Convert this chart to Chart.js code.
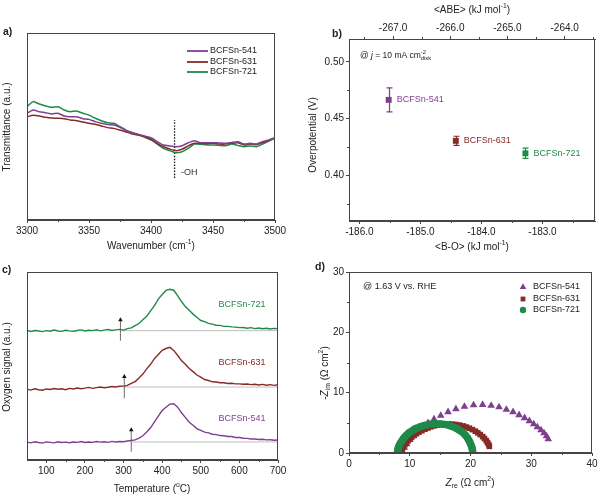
<!DOCTYPE html>
<html>
<head>
<meta charset="utf-8">
<script src="https://cdn.jsdelivr.net/npm/chart.js@4.4.1/dist/chart.umd.min.js"></script>
<style>
html, body { margin: 0; padding: 0; background: #fff; }
#wrap { position: relative; width: 600px; height: 498px; }
#wrap canvas { position: absolute; left: 0; top: 0; }
</style>
</head>
<body>
<div id="wrap">
  <canvas id="pa" width="600" height="498"></canvas>
  <canvas id="pb" width="600" height="498"></canvas>
  <canvas id="pc" width="600" height="498"></canvas>
  <canvas id="pd" width="600" height="498"></canvas>
</div>
<script>
// Four-panel figure: FTIR (a), overpotential vs <B-O> (b), O2-TPD (c), Nyquist (d).

const SAMPLES = ['BCFSn-541', 'BCFSn-631', 'BCFSn-721'];

// (a) FTIR, arbitrary transmittance units
const WAVENUMBER = [3300, 3305, 3310, 3315, 3320, 3325, 3330, 3335, 3340, 3345, 3350, 3355, 3360, 3365, 3370,
  3375, 3380, 3385, 3390, 3395, 3400, 3405, 3410, 3415, 3420, 3425, 3430, 3435, 3440, 3445, 3450, 3455, 3460,
  3465, 3470, 3475, 3480, 3485, 3490, 3495, 3500];
const FTIR_541 = [57.1, 58.8, 57.9, 57.4, 56.7, 57.1, 55.6, 55.2, 55.2, 54.2, 53.8, 52.6, 51.7, 51.0, 50.8,
  49.6, 47.8, 46.7, 45.8, 44.9, 44.0, 41.9, 40.1, 39.6, 39.2, 39.7, 41.3, 42.4, 41.3, 41.3, 41.3, 41.2, 41.0,
  41.5, 41.9, 40.6, 41.0, 40.6, 41.9, 42.8, 44.0];
const FTIR_631 = [55.2, 56.0, 55.6, 54.9, 54.5, 54.4, 54.2, 53.5, 53.1, 52.4, 51.7, 51.2, 50.3, 49.4, 49.0,
  48.1, 47.1, 46.0, 45.3, 44.5, 43.2, 41.0, 39.2, 38.0, 37.1, 37.8, 39.6, 41.0, 41.0, 40.8, 41.0, 40.6, 40.6,
  41.0, 41.3, 40.1, 40.6, 40.3, 41.3, 42.6, 43.9];
const FTIR_721 = [60.6, 63.3, 62.0, 61.0, 60.3, 60.6, 58.8, 57.9, 58.3, 57.1, 56.1, 54.4, 53.1, 52.0, 51.7,
  49.9, 48.1, 46.7, 45.5, 44.2, 42.8, 40.6, 38.3, 37.1, 36.0, 36.5, 38.3, 40.6, 40.5, 40.1, 40.1, 39.9, 39.7,
  40.6, 39.9, 39.2, 39.6, 39.2, 40.6, 42.2, 43.7];
const OH_MARK = 3419;
const OH_SPAN = [22.5, 53.5];
const A_XTICKS = [3300, 3350, 3400, 3450, 3500];
const A_XMINOR = [3325, 3375, 3425, 3475];

// (b) overpotential at 10 mA cm-2 vs <B-O>
const B_O = [-185.52, -184.42, -183.28];
const ETA = [0.4665, 0.4305, 0.4195];
const ETA_ERR = [0.0105, 0.004, 0.0045];
const B_XTICKS = [-186, -185, -184, -183];
const B_XMINOR = [-185.5, -184.5, -183.5, -182.5];
const ABE_TICKS = [-267, -266, -265, -264];
const ABE_MINOR = [-267.5, -266.5, -265.5, -264.5, -263.5];
const B_YTICKS = [0.40, 0.45, 0.50];
const B_YMINOR = [0.375, 0.425, 0.475];

// (c) O2-TPD, stacked signals
const TEMP = [50, 60, 70, 80, 90, 100, 110, 120, 130, 140, 150, 160, 170, 180, 190, 200, 210, 220, 230, 240,
  250, 260, 270, 280, 290, 300, 310, 320, 330, 340, 350, 360, 370, 380, 390, 400, 410, 420, 430, 440, 450,
  460, 470, 480, 490, 500, 510, 520, 530, 540, 550, 560, 570, 580, 590, 600, 610, 620, 630, 640, 650, 660,
  670, 680, 690, 700];
const TPD_541 = [0.95, 0.91, 0.97, 0.93, 0.90, 0.96, 0.94, 0.91, 0.97, 0.93, 0.95, 0.92, 0.96, 0.94, 0.98,
  0.93, 0.96, 0.94, 0.98, 0.95, 0.97, 0.94, 0.99, 0.96, 0.98, 0.97, 1.01, 1.04, 1.07, 1.16, 1.29, 1.49, 1.71,
  2.03, 2.33, 2.63, 2.81, 2.97, 2.99, 2.81, 2.51, 2.27, 2.01, 1.85, 1.67, 1.58, 1.48, 1.44, 1.37, 1.35, 1.30,
  1.29, 1.25, 1.25, 1.20, 1.20, 1.16, 1.15, 1.12, 1.12, 1.09, 1.10, 1.07, 1.08, 1.05, 1.06];
const TPD_631 = [3.77, 3.72, 3.79, 3.74, 3.71, 3.78, 3.75, 3.80, 3.76, 3.79, 3.74, 3.81, 3.78, 3.83, 3.79,
  3.82, 3.86, 3.81, 3.85, 3.88, 3.84, 3.87, 3.91, 3.88, 3.92, 3.93, 3.97, 4.07, 4.17, 4.36, 4.57, 4.85, 5.09,
  5.39, 5.61, 5.83, 5.93, 5.99, 5.83, 5.57, 5.29, 5.09, 4.87, 4.70, 4.52, 4.41, 4.28, 4.23, 4.16, 4.15, 4.11,
  4.11, 4.07, 4.08, 4.05, 4.05, 4.03, 4.04, 4.01, 4.03, 3.99, 4.02, 3.98, 4.01, 3.97, 4.00];
const TPD_721 = [6.90, 6.84, 6.89, 6.86, 6.83, 6.88, 6.85, 6.91, 6.86, 6.84, 6.90, 6.87, 6.85, 6.89, 6.92,
  6.86, 6.90, 6.88, 6.93, 6.87, 6.91, 6.94, 6.89, 6.92, 6.95, 6.91, 6.99, 7.03, 7.15, 7.26, 7.46, 7.64, 7.93,
  8.21, 8.56, 8.80, 9.02, 9.08, 9.03, 8.74, 8.43, 8.16, 7.96, 7.76, 7.59, 7.42, 7.36, 7.27, 7.23, 7.17, 7.16,
  7.11, 7.11, 7.08, 7.07, 7.04, 7.05, 7.01, 7.04, 6.99, 7.02, 6.98, 7.01, 6.97, 7.00, 6.99];
const ONSET_T = [320, 302, 292];          // arrows, per sample
const ARROW_LOW = [0.44, 3.28, 6.35];
const ARROW_HIGH = [1.60, 4.43, 7.45];
const GUIDE_START = [323, 300, 292];      // grey baselines
const GUIDE_LEVEL = [0.96, 3.88, 6.88];
const C_XTICKS = [100, 200, 300, 400, 500, 600, 700];
const C_XMINOR = [150, 250, 350, 450, 550, 650];

// (d) Nyquist at 1.63 V vs. RHE
const ZRE_541 = [8.8, 9.1, 9.5, 10.0, 10.6, 11.3, 12.1, 13.0, 14.0, 15.1, 16.3, 17.6, 19.0, 20.5, 22.0, 23.4,
  24.7, 25.9, 27.0, 28.0, 28.9, 29.7, 30.4, 31.0, 31.6, 32.1, 32.5, 32.8];
const ZIM_541 = [0.3, 0.9, 1.5, 2.2, 2.9, 3.6, 4.3, 5.0, 5.6, 6.2, 6.8, 7.3, 7.7, 7.95, 8.0, 7.85,
  7.6, 7.2, 6.8, 6.3, 5.8, 5.3, 4.8, 4.3, 3.8, 3.3, 2.8, 2.3];
const ZRE_631 = [8.6, 8.7, 8.8, 9.0, 9.2, 9.4, 9.7, 10.0, 10.3, 10.7, 11.1, 11.5, 12.0, 12.5, 13.0, 13.5, 14.0,
  14.6, 15.2, 15.8, 16.4, 17.0, 17.6, 18.2, 18.8, 19.3, 19.8, 20.3, 20.8, 21.2, 21.6, 22.0, 22.3, 22.6, 22.8,
  23.0, 23.1];
const ZIM_631 = [0.2, 0.5, 0.8, 1.1, 1.4, 1.7, 2.0, 2.3, 2.6, 2.9, 3.2, 3.45, 3.7, 3.95, 4.15, 4.35, 4.5,
  4.62, 4.72, 4.78, 4.8, 4.78, 4.72, 4.62, 4.48, 4.3, 4.1, 3.88, 3.62, 3.35, 3.05, 2.72, 2.4, 2.05, 1.7,
  1.4, 1.1];
const ZRE_721 = [8.0, 8.05, 8.1, 8.2, 8.35, 8.5, 8.7, 8.9, 9.15, 9.4, 9.7, 10.0, 10.4, 10.8, 11.2, 11.7, 12.2,
  12.7, 13.2, 13.8, 14.4, 15.0, 15.6, 16.2, 16.7, 17.2, 17.7, 18.1, 18.5, 18.9, 19.2, 19.5, 19.7, 19.9, 20.05,
  20.2, 20.3, 20.35];
const ZIM_721 = [0.2, 0.5, 0.8, 1.1, 1.4, 1.7, 2.0, 2.3, 2.6, 2.9, 3.2, 3.45, 3.7, 3.95, 4.15, 4.35, 4.52,
  4.65, 4.75, 4.82, 4.85, 4.82, 4.75, 4.63, 4.48, 4.3, 4.08, 3.83, 3.55, 3.22, 2.88, 2.52, 2.15, 1.78, 1.4,
  1.02, 0.65, 0.3];
const D_XTICKS = [0, 10, 20, 30, 40];
const D_XMINOR = [5, 15, 25, 35];
const D_YTICKS = [0, 10, 20, 30];
const D_YMINOR = [5, 15, 25];

const PURPLE = '#7E3F8F';
const RED = '#862A26';
const GREEN = '#1E8A4A';
const COLORS = [PURPLE, RED, GREEN];
const AXIS = '#444';
const INK = '#222';
const FAMILY = '"Liberation Sans", Arial, sans-serif';

Chart.defaults.font.family = FAMILY;
Chart.defaults.font.size = 10;
Chart.defaults.color = INK;

// text with italic / sub / sup pieces; {o:1} stacks a piece on the previous one
function richText(ctx, segs, x, y, opt) {
  const size = opt.size || 10;
  ctx.save();
  ctx.translate(x, y);
  if (opt.rot) ctx.rotate(opt.rot);
  ctx.fillStyle = opt.color || INK;
  ctx.textBaseline = 'middle';
  let cx = 0, start = 0;
  const laid = [];
  segs.forEach((s) => {
    const fs = (s.sub || s.sup) ? size * 0.68 : size;
    const font = (s.i ? 'italic ' : '') + (s.b ? 'bold ' : '') + fs + 'px ' + FAMILY;
    ctx.font = font;
    const w = ctx.measureText(s.t).width;
    const x0 = s.o ? start : cx;
    if (!s.o) start = cx;
    laid.push({ t: s.t, font, x0, dy: s.sub ? size * 0.32 : s.sup ? -size * 0.38 : 0 });
    cx = Math.max(cx, x0 + w);
  });
  const off = opt.align === 'left' ? 0 : opt.align === 'right' ? -cx : -cx / 2;
  laid.forEach((p) => { ctx.font = p.font; ctx.fillText(p.t, off + p.x0, p.dy); });
  ctx.restore();
}

function frameAndMinor(chart, minors) {
  const { ctx, chartArea: a } = chart;
  ctx.save();
  ctx.strokeStyle = AXIS;
  ctx.lineWidth = 1;
  ctx.strokeRect(Math.round(a.left) + 0.5, Math.round(a.top) + 0.5,
    Math.round(a.right - a.left) - 1, Math.round(a.bottom - a.top) - 1);
  ctx.beginPath();
  Object.keys(minors).forEach((id) => {
    const s = chart.scales[id];
    minors[id].forEach((v) => {
      const p = Math.round(s.getPixelForValue(v)) + 0.5;
      if (s.isHorizontal()) {
        const y0 = s.position === 'top' ? a.top : a.bottom;
        ctx.moveTo(p, y0);
        ctx.lineTo(p, y0 + (s.position === 'top' ? -2 : 2));
      } else {
        ctx.moveTo(a.left, p);
        ctx.lineTo(a.left - 2, p);
      }
    });
  });
  ctx.stroke();
  ctx.restore();
}

function axis(min, max, ticks, size, fmt, extra) {
  return Object.assign({
    type: 'linear',
    min, max,
    afterBuildTicks: (s) => { s.ticks = ticks.map((v) => ({ value: v })); },
    afterFit: (s) => { if (s.isHorizontal()) s.height = size; else s.width = size; },
    grid: { drawOnChartArea: false, drawTicks: ticks.length > 0, tickLength: 3, color: AXIS },
    border: { color: AXIS, width: 1 },
    ticks: { display: ticks.length > 0, padding: 2, color: INK, font: { size: 10 }, callback: fmt },
  }, extra || {});
}

const base = (padding) => ({
  responsive: false,
  animation: false,
  layout: { padding },
  plugins: { legend: { display: false }, tooltip: { enabled: false } },
});

const line = (xs, ys, color, width) => ({
  data: xs.map((x, i) => ({ x, y: ys[i] })),
  borderColor: color,
  borderWidth: width,
  pointRadius: 0,
  tension: 0.2,
  fill: false,
});

// ---------- (a) ----------
new Chart(document.getElementById('pa'), {
  type: 'line',
  data: {
    datasets: [
      line(WAVENUMBER, FTIR_541, PURPLE, 1.5),
      line(WAVENUMBER, FTIR_631, RED, 1.5),
      line(WAVENUMBER, FTIR_721, GREEN, 1.5),
      Object.assign(line([OH_MARK, OH_MARK], OH_SPAN, '#111', 1.3), { borderDash: [1.5, 1.5] }),
    ],
  },
  options: Object.assign(base({ left: 0, right: 325, top: 33, bottom: 253 }), {
    scales: {
      x: axis(3300, 3500, A_XTICKS, 25, (v) => v),
      y: axis(0, 100, [], 27),
    },
  }),
  plugins: [{
    id: 'decorA',
    afterDraw(chart) {
      const ctx = chart.ctx;
      frameAndMinor(chart, { x: A_XMINOR });
      richText(ctx, [{ t: 'a)', b: 1 }], 3, 32, { size: 10.5, align: 'left' });
      richText(ctx, [{ t: 'Transmittance (a.u.)' }], 7, 127, { rot: -Math.PI / 2 });
      richText(ctx, [{ t: 'Wavenumber (cm' }, { t: '-1', sup: 1 }, { t: ')' }], 151, 246, {});
      richText(ctx, [{ t: '-OH' }], 181, 173, { size: 9, align: 'left', color: '#333' });
      [51, 62, 72].forEach((y, i) => {
        ctx.save();
        ctx.strokeStyle = COLORS[i];
        ctx.lineWidth = 1.8;
        ctx.beginPath();
        ctx.moveTo(187, y);
        ctx.lineTo(208, y);
        ctx.stroke();
        ctx.restore();
        richText(ctx, [{ t: SAMPLES[i] }], 210, y, { size: 9, align: 'left' });
      });
    },
  }],
});

// ---------- (b) ----------
new Chart(document.getElementById('pb'), {
  type: 'scatter',
  data: {
    datasets: [{
      data: B_O.map((x, i) => ({ x, y: ETA[i] })),
      pointStyle: 'rect',
      pointRadius: 4.2,
      pointBackgroundColor: COLORS,
      pointBorderColor: COLORS,
      pointBorderWidth: 0,
      xAxisID: 'x',
      yAxisID: 'y',
    }],
  },
  options: Object.assign(base({ left: 300, right: 5, top: 0, bottom: 252 }), {
    scales: {
      x: axis(-186.17, -182.14, B_XTICKS, 25, (v) => v.toFixed(1), { position: 'bottom' }),
      x2: axis(-267.77, -263.47, ABE_TICKS, 39, (v) => v.toFixed(1), { position: 'top' }),
      y: axis(0.36, 0.52, B_YTICKS, 49, (v) => v.toFixed(2), { position: 'left' }),
    },
  }),
  plugins: [{
    id: 'decorB',
    beforeDatasetsDraw(chart) {
      const { ctx, scales } = chart;
      ctx.save();
      ctx.lineWidth = 1.2;
      B_O.forEach((bo, i) => {
        const x = Math.round(scales.x.getPixelForValue(bo)) + 0.5;
        const y0 = scales.y.getPixelForValue(ETA[i] - ETA_ERR[i]);
        const y1 = scales.y.getPixelForValue(ETA[i] + ETA_ERR[i]);
        ctx.strokeStyle = COLORS[i];
        ctx.beginPath();
        ctx.moveTo(x, y0); ctx.lineTo(x, y1);
        ctx.moveTo(x - 3, y0); ctx.lineTo(x + 3, y0);
        ctx.moveTo(x - 3, y1); ctx.lineTo(x + 3, y1);
        ctx.stroke();
      });
      ctx.restore();
    },
    afterDraw(chart) {
      const { ctx, scales } = chart;
      frameAndMinor(chart, { x: B_XMINOR, x2: ABE_MINOR, y: B_YMINOR });
      richText(ctx, [{ t: 'b)', b: 1 }], 332, 34, { size: 10.5, align: 'left' });
      richText(ctx, [{ t: '<ABE> (kJ mol' }, { t: '-1', sup: 1 }, { t: ')' }], 472, 10, {});
      richText(ctx, [{ t: '<B-O> (kJ mol' }, { t: '-1', sup: 1 }, { t: ')' }], 472, 247, {});
      richText(ctx, [{ t: 'Overpotential (V)' }], 313, 135, { rot: -Math.PI / 2 });
      richText(ctx, [{ t: '@ ' }, { t: 'j', i: 1 }, { t: ' = 10 mA cm' }, { t: '-2', sup: 1 }, { t: 'disk', sub: 1, o: 1 }],
        360, 56, { size: 8.5, align: 'left' });
      B_O.forEach((bo, i) => {
        richText(ctx, [{ t: SAMPLES[i] }], scales.x.getPixelForValue(bo) + 8,
          scales.y.getPixelForValue(ETA[i]), { size: 9, align: 'left', color: COLORS[i] });
      });
    },
  }],
});

// ---------- (c) ----------
const TPD = [TPD_541, TPD_631, TPD_721];
const tpdLines = TPD.map((ys, i) => Object.assign(line(TEMP, ys, COLORS[i], 1.4), { tension: 0 }));
const guides = GUIDE_LEVEL.map((lv, i) => line([GUIDE_START[i], 700], [lv, lv], '#bdbdbd', 1));
const arrows = ONSET_T.map((t, i) => Object.assign(line([t, t], [ARROW_LOW[i], ARROW_HIGH[i]], '#666', 1), {
  pointStyle: [false, 'triangle'],
  pointRadius: [0, 2.6],
  pointBackgroundColor: '#111',
  pointBorderColor: '#111',
  pointBorderWidth: 0,
}));

new Chart(document.getElementById('pc'), {
  type: 'line',
  data: { datasets: [...arrows, ...tpdLines, ...guides] },
  options: Object.assign(base({ left: 0, right: 322, top: 272, bottom: 13 }), {
    scales: {
      x: axis(50, 700, C_XTICKS, 25, (v) => v),
      y: axis(0, 10, [], 27),
    },
  }),
  plugins: [{
    id: 'decorC',
    afterDraw(chart) {
      const ctx = chart.ctx;
      frameAndMinor(chart, { x: C_XMINOR });
      richText(ctx, [{ t: 'c)', b: 1 }], 2, 270, { size: 10.5, align: 'left' });
      richText(ctx, [{ t: 'Oxygen signal (a.u.)' }], 7, 367, { rot: -Math.PI / 2 });
      richText(ctx, [{ t: 'Temperature (' }, { t: 'o', sup: 1 }, { t: 'C)' }], 152, 489, {});
      [419, 363, 305].forEach((y, i) => {
        richText(ctx, [{ t: SAMPLES[i] }], 242, y, { size: 9, color: COLORS[i] });
      });
    },
  }],
});

// ---------- (d) ----------
const NYQ_RE = [ZRE_541, ZRE_631, ZRE_721];
const NYQ_IM = [ZIM_541, ZIM_631, ZIM_721];
const MARKERS = ['triangle', 'rect', 'circle'];
const MARKER_R = [4.4, 4.0, 3.8];
const nyq = [2, 1, 0].map((i) => ({
  data: NYQ_RE[i].map((x, k) => ({ x, y: NYQ_IM[i][k] })),
  pointStyle: MARKERS[i],
  pointRadius: MARKER_R[i],
  backgroundColor: COLORS[i],
  borderColor: COLORS[i],
  borderWidth: 0,
}));

new Chart(document.getElementById('pd'), {
  type: 'scatter',
  data: { datasets: nyq },
  options: Object.assign(base({ left: 300, right: 8, top: 272, bottom: 20 }), {
    scales: {
      x: axis(0, 40, D_XTICKS, 25, (v) => v),
      y: axis(0, 30, D_YTICKS, 49, (v) => v),
    },
  }),
  plugins: [{
    id: 'decorD',
    afterDraw(chart) {
      const ctx = chart.ctx;
      frameAndMinor(chart, { x: D_XMINOR, y: D_YMINOR });
      richText(ctx, [{ t: 'd)', b: 1 }], 315, 267, { size: 10.5, align: 'left' });
      richText(ctx, [{ t: 'Z', i: 1 }, { t: 're', sub: 1 }, { t: ' (\u03A9 cm' }, { t: '2', sup: 1 }, { t: ')' }], 470, 483, {});
      richText(ctx, [{ t: '-' }, { t: 'Z', i: 1 }, { t: 'im', sub: 1 }, { t: ' (\u03A9 cm' }, { t: '2', sup: 1 }, { t: ')' }],
        325, 373, { rot: -Math.PI / 2 });
      richText(ctx, [{ t: '@ 1.63 V vs. RHE' }], 363, 287, { size: 9, align: 'left' });
      [287, 299, 310].forEach((y, i) => {
        ctx.save();
        ctx.fillStyle = COLORS[i];
        ctx.strokeStyle = COLORS[i];
        Chart.helpers.drawPoint(ctx, {
          pointStyle: MARKERS[i], radius: MARKER_R[i] - 0.6, rotation: 0, borderWidth: 0,
        }, 523, y);
        ctx.restore();
        richText(ctx, [{ t: SAMPLES[i] }], 533, y, { size: 9, align: 'left' });
      });
    },
  }],
});
</script>
</body>
</html>
